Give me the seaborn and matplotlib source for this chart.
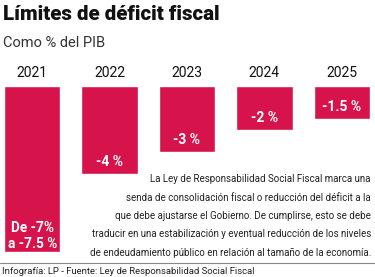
import matplotlib
matplotlib.use("Agg")
import matplotlib.pyplot as plt
import seaborn as sns
import pandas as pd

# datos
years = ["2021", "2022", "2023", "2024", "2025"]
deficit = [-7.5, -4, -3, -2, -1.5]
bar_labels = ["De -7%\na -7.5 %", "-4 %", "-3 %", "-2 %", "-1.5 %"]

TITLE = "Límites de déficit fiscal"
SUBTITLE = "Como % del PIB"
NOTE = ("La Ley de Responsabilidad Social Fiscal marca una\n"
        "senda de consolidación fiscal o reducción del déficit a la\n"
        "que debe ajustarse el Gobierno. De cumplirse, esto se debe\n"
        "traducir en una estabilización y eventual reducción de los niveles\n"
        "de endeudamiento público en relación al tamaño de la economía.")
SOURCE = "Infografía: LP - Fuente: Ley de Responsabilidad Social Fiscal"

RED = "#D6134A"

sns.set_style("white")
plt.rcParams['font.family'] = ['Roboto', 'DejaVu Sans']

df = pd.DataFrame({"year": years, "value": deficit})

fig = plt.figure(figsize=(3.75, 2.77), dpi=100)
W, H = 375, 277
ax = fig.add_axes([4 / W, 1 - 253 / H, 366 / W, 167 / H])

w = 0.73
sns.barplot(data=df, x="year", y="value", color=RED, width=w, ax=ax,
            saturation=1)
ax.set_xlim(-w / 2, len(years) - 1 + w / 2)
ax.set_ylim(-7.55, 0)
ax.axis("off")

for i, (v, lab) in enumerate(zip(deficit, bar_labels)):
    ax.text(i, 0.6, years[i], ha="center", va="center", fontsize=10,
            color="#111111")
    if i == 0:
        ax.text(i, v + 0.72, lab, ha="center", va="center", fontsize=9.8,
                fontweight="bold", color="white", linespacing=1.1)
    else:
        ax.text(i, v + 0.55, lab, ha="center", va="center", fontsize=10,
                fontweight="bold", color="white")

fig.text(3 / W, 1 - 14 / H, TITLE, ha="left", va="center", fontsize=14.8,
         fontweight="heavy", color="#111111")
fig.text(3 / W, 1 - 43 / H, SUBTITLE, ha="left", va="center", fontsize=10.5,
         color="#333333")
fig.text(371 / W, 1 - 216 / H, NOTE, ha="right", va="center", fontsize=7.0,
         color="#222222", linespacing=2.05, multialignment="right")

fig.add_artist(plt.Line2D([0, 1], [1 - 263 / H, 1 - 263 / H],
                          transform=fig.transFigure, color="#888888", lw=0.8))
fig.text(2 / W, 1 - 271 / H, SOURCE, ha="left", va="center", fontsize=6.8,
         color="#222222")

fig.savefig("out.png", dpi=100)
